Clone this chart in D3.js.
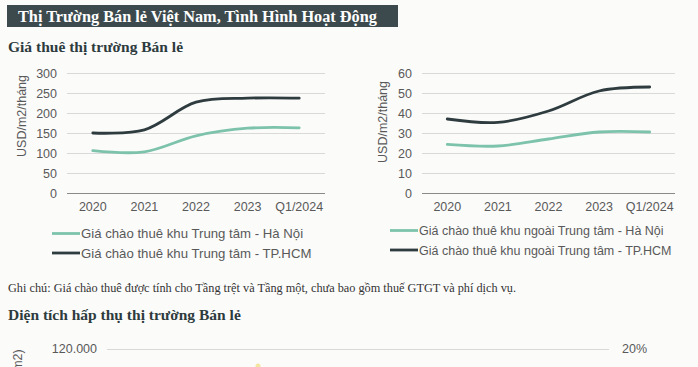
<!DOCTYPE html>
<html>
<head>
<meta charset="utf-8">
<script src="https://cdn.jsdelivr.net/npm/d3@7"></script>
<style>
  body { margin: 0; background: #fbfbfa; }
  svg { display: block; }
</style>
</head>
<body>
<div id="chart"></div>
<script>
// données
const categories = ['2020', '2021', '2022', '2023', 'Q1/2024'];
const hnCentre = [106, 103, 143, 162, 163];
const hcmCentre = [150, 158, 227, 237, 237];
const hnOuter = [24.3, 23.5, 27, 30.5, 30.5];
const hcmOuter = [37, 35.3, 41, 51, 53];
const ticksCentre = [0, 50, 100, 150, 200, 250, 300];
const ticksOuter = [0, 10, 20, 30, 40, 50, 60];
const legendCentre = ['Giá chào thuê khu Trung tâm - Hà Nội', 'Giá chào thuê khu Trung tâm - TP.HCM'];
const legendOuter = ['Giá chào thuê khu ngoài Trung tâm - Hà Nội', 'Giá chào thuê khu ngoài Trung tâm - TP.HCM'];

const WIDTH = 698;
const HEIGHT = 367;
const HN_COLOR = '#7dc3ab';
const HCM_COLOR = '#2f3c3f';
const SERIF = '"Liberation Serif", "DejaVu Serif", serif';
const SANS = '"Liberation Sans", Arial, sans-serif';

const svg = d3.select('#chart').append('svg').attr('width', WIDTH).attr('height', HEIGHT);

// bandeau du titre
svg.append('rect').attr('x', 7).attr('y', 5).attr('width', 391).attr('height', 22).attr('fill', '#3c4a4d');
svg.append('text').attr('x', 18).attr('y', 21.5)
  .attr('font-family', SERIF).attr('font-weight', 'bold').attr('font-size', 16.3)
  .attr('fill', '#ffffff')
  .text('Thị Trường Bán lẻ Việt Nam, Tình Hình Hoạt Động');

svg.append('text').attr('x', 8).attr('y', 52)
  .attr('font-family', SERIF).attr('font-weight', 'bold').attr('font-size', 15.5)
  .attr('fill', '#2e3b3e')
  .text('Giá thuê thị trường Bán lẻ');

function drawChart(opts) {
  const x = d3.scaleBand().domain(categories).range([opts.x0, opts.x1]);
  const y = d3.scaleLinear().domain([0, d3.max(opts.ticks)]).range([193, 73]);
  const g = svg.append('g');

  // lignes de la grille
  g.selectAll('line.grid')
    .data(opts.ticks)
    .enter()
    .append('line')
    .attr('x1', opts.x0).attr('x2', opts.x1)
    .attr('y1', d => y(d) + 0.5).attr('y2', d => y(d) + 0.5)
    .attr('stroke', d => d === 0 ? '#8a8a8a' : '#d9d9d9')
    .attr('stroke-width', 1);

  // graduations de l'axe y
  g.selectAll('text.ytick')
    .data(opts.ticks)
    .enter()
    .append('text')
    .attr('x', opts.x0 - 10)
    .attr('y', d => y(d) + 4.5)
    .attr('text-anchor', 'end')
    .attr('font-family', SANS).attr('font-size', 12.5).attr('fill', '#595959')
    .text(d => d);

  // étiquettes de l'axe x
  g.selectAll('text.xtick')
    .data(categories)
    .enter()
    .append('text')
    .attr('x', d => x(d) + x.bandwidth() / 2)
    .attr('y', 211)
    .attr('text-anchor', 'middle')
    .attr('font-family', SANS).attr('font-size', 12.5).attr('fill', '#595959')
    .text(d => d);

  // titre de l'axe y
  g.append('text')
    .attr('transform', `translate(${opts.labelX}, ${opts.labelY}) rotate(-90)`)
    .attr('text-anchor', 'middle')
    .attr('font-family', SANS).attr('font-size', 12.5).attr('fill', '#595959')
    .text('USD/m2/tháng');

  const line = d3.line()
    .x((d, i) => x(categories[i]) + x.bandwidth() / 2)
    .y(d => y(d))
    .curve(d3.curveCatmullRom.alpha(0.5));

  const series = [
    { values: opts.hn, color: HN_COLOR },
    { values: opts.hcm, color: HCM_COLOR }
  ];

  g.selectAll('path.serie')
    .data(series)
    .enter()
    .append('path')
    .attr('d', d => line(d.values))
    .attr('fill', 'none')
    .attr('stroke', d => d.color)
    .attr('stroke-width', 2.8)
    .attr('stroke-linecap', 'round');

  // la légende
  const legend = g.selectAll('g.leg')
    .data(series)
    .enter()
    .append('g')
    .attr('transform', (d, i) => `translate(${opts.legX}, ${opts.legY + i * 19.5})`);

  legend.append('line')
    .attr('x1', 0).attr('x2', 28)
    .attr('stroke', d => d.color).attr('stroke-width', 2.8);

  legend.append('text')
    .attr('x', 29).attr('y', 4.5)
    .attr('font-family', SANS).attr('font-size', opts.legSize).attr('fill', '#595959')
    .text((d, i) => opts.legend[i]);
}

drawChart({ x0: 67, x1: 325, ticks: ticksCentre, hn: hnCentre, hcm: hcmCentre,
  labelX: 26, labelY: 116, legX: 52, legY: 233.5, legSize: 13.2, legend: legendCentre });
drawChart({ x0: 422, x1: 675, ticks: ticksOuter, hn: hnOuter, hcm: hcmOuter,
  labelX: 387, labelY: 122, legX: 390, legY: 230.5, legSize: 12.5, legend: legendOuter });

// note
svg.append('text').attr('x', 8).attr('y', 292)
  .attr('font-family', SERIF).attr('font-size', 11.5).attr('fill', '#333')
  .attr('textLength', 508).attr('lengthAdjust', 'spacingAndGlyphs')
  .text('Ghi chú: Giá chào thuê được tính cho Tầng trệt và Tầng một, chưa bao gồm thuế GTGT và phí dịch vụ.');

svg.append('text').attr('x', 8).attr('y', 320)
  .attr('font-family', SERIF).attr('font-weight', 'bold').attr('font-size', 15.5)
  .attr('fill', '#2e3b3e')
  .text('Diện tích hấp thụ thị trường Bán lẻ');

// début du graphique suivant (coupé)
svg.append('line').attr('x1', 107).attr('x2', 609).attr('y1', 349.5).attr('y2', 349.5)
  .attr('stroke', '#d9d9d9');
svg.append('text').attr('x', 97).attr('y', 353).attr('text-anchor', 'end')
  .attr('font-family', SANS).attr('font-size', 12.5).attr('fill', '#595959')
  .text('120.000');
svg.append('text').attr('x', 622).attr('y', 353)
  .attr('font-family', SANS).attr('font-size', 12.5).attr('fill', '#595959')
  .text('20%');
svg.append('text')
  .attr('transform', 'translate(22, 375) rotate(-90)')
  .attr('font-family', SANS).attr('font-size', 12.5).attr('fill', '#595959')
  .text('(m2)');
svg.append('circle').attr('cx', 258).attr('cy', 366).attr('r', 2.5).attr('fill', '#f2e6a0');
</script>
</body>
</html>
